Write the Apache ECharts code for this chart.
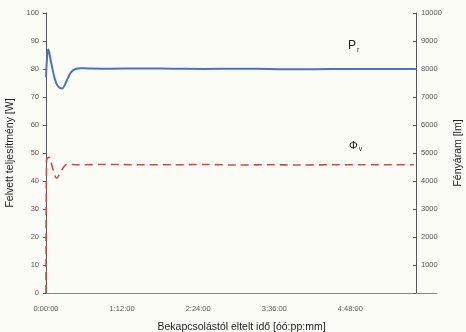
<!DOCTYPE html>
<html><head><meta charset="utf-8">
<script src="https://cdn.jsdelivr.net/npm/echarts@6/dist/echarts.min.js"></script>
<style>html,body{margin:0;padding:0;background:#fcfcf6}#c{width:466px;height:332px}</style>
</head><body><div id="c"></div>
<script>
// time in minutes since switch-on
const powerTime = [0, 1, 2, 3, 5, 8, 11, 15, 18, 21, 24, 28, 33, 40, 60, 90, 120, 150, 180, 210, 240, 270, 300, 330, 350];
const powerW    = [77, 84, 87, 86, 82, 77, 74, 73, 74.5, 77, 79, 80, 80.3, 80.2, 80.1, 80.2, 80.1, 80.0, 80.1, 80.0, 79.9, 80.0, 80.0, 80.0, 80.0];
const fluxTime  = [0, 0.5, 3, 6, 10, 15, 20, 30, 60, 90, 120, 150, 180, 210, 240, 270, 300, 330, 348];
const fluxLm    = [0, 4750, 4850, 4500, 4100, 4400, 4600, 4580, 4590, 4580, 4580, 4590, 4570, 4580, 4570, 4580, 4580, 4580, 4580];
const leftTicks = [0, 10, 20, 30, 40, 50, 60, 70, 80, 90, 100];

const fmtTime = m => { if (m >= 360) return ''; const h = Math.floor(m / 60), mm = m % 60; return h + ':' + String(mm).padStart(2, '0') + ':00'; };
const chart = echarts.init(document.getElementById('c'));
const tickStyle = { color: '#555', fontSize: 7.5, fontFamily: 'Liberation Sans' };
chart.setOption({
  backgroundColor: '#fcfcf6',
  animation: false,
  grid: { left: 46, right: 29, top: 13, bottom: 39, outerBoundsMode: 'none', containLabel: false },
  xAxis: {
    type: 'value', min: 0, max: 370, interval: 72,
    axisLine: { lineStyle: { color: '#888', width: 1 } },
    axisTick: { show: false }, splitLine: { show: false },
    axisLabel: Object.assign({ formatter: fmtTime, margin: 12 }, tickStyle),
    name: 'Bekapcsolástól eltelt idő [óó:pp:mm]', nameLocation: 'middle', nameGap: 29,
    nameTextStyle: { color: '#222', fontSize: 10.5, fontFamily: 'Liberation Sans' }
  },
  yAxis: [{
    type: 'value', min: 0, max: 100, interval: 10,
    axisLine: { show: true, lineStyle: { color: '#555' } },
    axisTick: { show: true, length: 3, lineStyle: { color: '#555' } },
    splitLine: { show: false },
    axisLabel: Object.assign({ margin: 7 }, tickStyle),
    name: 'Felvett teljesítmény [W]', nameLocation: 'middle', nameGap: 28,
    nameTextStyle: { color: '#222', fontSize: 10.5, fontFamily: 'Liberation Sans' }
  }, {
    type: 'value', min: 0, max: 10000, interval: 1000, position: 'right', offset: -21,
    axisLine: { show: true, lineStyle: { color: '#555' } },
    axisTick: { show: true, length: 3, inside: true, lineStyle: { color: '#555' } },
    splitLine: { show: false },
    axisLabel: Object.assign({ margin: 5, formatter: v => v === 0 ? '' : String(v) }, tickStyle),
    name: 'Fényáram [lm]', nameLocation: 'middle', nameGap: 33,
    nameTextStyle: { color: '#222', fontSize: 10.5, fontFamily: 'Liberation Sans' }
  }],
  series: [{
    type: 'line', yAxisIndex: 0, showSymbol: false, smooth: 0.4,
    data: powerTime.map((t, i) => [t, powerW[i]]),
    lineStyle: { color: '#4f72b8', width: 2 }, z: 3
  }, {
    type: 'line', yAxisIndex: 1, showSymbol: false, smooth: 0.3,
    data: fluxTime.map((t, i) => [t, fluxLm[i]]),
    lineStyle: { color: '#c0504d', width: 1.6, type: [8, 5] }, z: 2
  }],
  graphic: [
    { type: 'text', left: 348, top: 40, style: { text: '{a|P}{b|r}', rich: { a: { fontSize: 12, fontFamily: 'Liberation Sans', fill: '#222' }, b: { fontSize: 7, fontFamily: 'Liberation Sans', fill: '#222', padding: [8, 0, 0, 1] } } } },
    { type: 'text', left: 349, top: 140, style: { text: '{a|Φ}{b|v}', rich: { a: { fontSize: 11, fontFamily: 'Liberation Sans', fill: '#222' }, b: { fontSize: 7, fontFamily: 'Liberation Sans', fill: '#222', padding: [8, 0, 0, 1] } } } }
  ]
});
</script></body></html>
